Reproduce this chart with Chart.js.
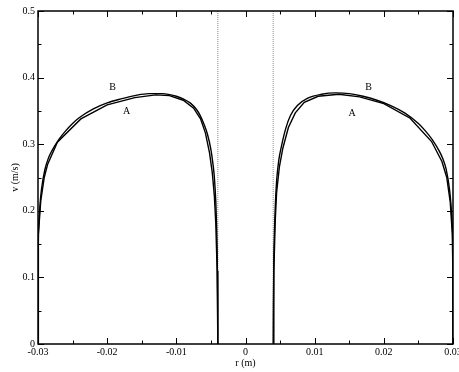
<!DOCTYPE html>
<html>
<head>
<meta charset="utf-8">
<script src="https://cdn.jsdelivr.net/npm/chart.js@4"></script>
<style>
    body { margin: 0; background: #fff; }
    canvas { display: block; }
</style>
</head>
<body>
<canvas id="myChartPerfil" width="459" height="372"></canvas>
<script>
// curva B (superior) - lado esquerdo
const rBEsq = [-0.03, -0.02998, -0.0299, -0.0297, -0.0295, -0.029, -0.0285, -0.028, -0.027, -0.026, -0.025, -0.024, -0.022, -0.020, -0.018, -0.016, -0.014, -0.012, -0.010, -0.009, -0.008, -0.007, -0.0066, -0.006, -0.0055, -0.005, -0.0047, -0.0045, -0.0043, -0.0042, -0.0041, -0.00403, -0.004];
const vBEsq = [0, 0.12, 0.175, 0.21, 0.232, 0.262, 0.279, 0.29, 0.307, 0.32, 0.331, 0.34, 0.353, 0.362, 0.368, 0.373, 0.376, 0.376, 0.372, 0.368, 0.362, 0.351, 0.344, 0.33, 0.315, 0.292, 0.27, 0.25, 0.215, 0.185, 0.14, 0.07, 0];
// curva A (inferior) - lado esquerdo
const rAEsq = [-0.03, -0.02999, -0.0299, -0.0296, -0.0291, -0.0286, -0.0272, -0.0238, -0.020, -0.016, -0.013, -0.011, -0.009, -0.0075, -0.0065, -0.0058, -0.0052, -0.0048, -0.0045, -0.0043, -0.0041, -0.004];
const vAEsq = [0, 0.1, 0.165, 0.215, 0.25, 0.27, 0.303, 0.338, 0.359, 0.37, 0.374, 0.373, 0.366, 0.354, 0.338, 0.317, 0.287, 0.257, 0.222, 0.182, 0.11, 0];
// curva B - lado direito
const rBDir = [0.004, 0.00403, 0.0041, 0.0042, 0.0043, 0.0045, 0.0048, 0.0052, 0.0058, 0.0065, 0.0075, 0.009, 0.011, 0.013, 0.015, 0.017, 0.019, 0.021, 0.023, 0.025, 0.026, 0.027, 0.028, 0.0285, 0.029, 0.0295, 0.0297, 0.0299, 0.02998, 0.03];
const vBDir = [0, 0.06, 0.13, 0.175, 0.205, 0.245, 0.275, 0.297, 0.323, 0.343, 0.358, 0.369, 0.375, 0.377, 0.376, 0.372, 0.366, 0.358, 0.347, 0.331, 0.32, 0.307, 0.29, 0.279, 0.263, 0.232, 0.21, 0.175, 0.12, 0];
// curva A - lado direito
const rADir = [0.004, 0.0041, 0.0043, 0.0045, 0.0049, 0.0054, 0.0062, 0.0072, 0.0085, 0.0105, 0.0135, 0.0165, 0.020, 0.0238, 0.0269, 0.0284, 0.0291, 0.0296, 0.0299, 0.02999, 0.03];
const vADir = [0, 0.11, 0.185, 0.228, 0.266, 0.294, 0.325, 0.347, 0.363, 0.372, 0.375, 0.371, 0.361, 0.339, 0.304, 0.274, 0.25, 0.213, 0.165, 0.1, 0];

// paredes (linhas pontilhadas)
const rParedes = [-0.004, 0.004];

// rotulos das curvas
const rotulosTexto = ['B', 'A', 'B', 'A'];
const rotulosR = [-0.0192, -0.0172, 0.0178, 0.0154];
const rotulosV = [0.386, 0.349, 0.386, 0.347];

// ticks
const ticksXMaior = [-0.03, -0.02, -0.01, 0, 0.01, 0.02, 0.03];
const ticksXMenor = [-0.025, -0.015, -0.005, 0.005, 0.015, 0.025];
const ticksYMaior = [0, 0.1, 0.2, 0.3, 0.4, 0.5];
const ticksYMenor = [0.05, 0.15, 0.25, 0.35, 0.45];

function pontos(xs, ys) {
    return xs.map((x, i) => ({ x: x, y: ys[i] }));
}

Chart.defaults.font.family = "'Liberation Serif', 'Times New Roman', serif";
Chart.defaults.font.size = 10;
Chart.defaults.color = '#000';

const estiloCurva = {
    showLine: true,
    fill: false,
    borderColor: '#000',
    borderWidth: 1.4,
    pointRadius: 0,
    tension: 0
};

const datasetsPerfil = [
    Object.assign({ label: 'B', data: pontos(rBEsq, vBEsq), cubicInterpolationMode: 'monotone' }, estiloCurva),
    Object.assign({ label: 'A', data: pontos(rAEsq, vAEsq) }, estiloCurva),
    Object.assign({ label: 'B', data: pontos(rBDir, vBDir), cubicInterpolationMode: 'monotone' }, estiloCurva),
    Object.assign({ label: 'A', data: pontos(rADir, vADir) }, estiloCurva)
];
rParedes.forEach(r => {
    datasetsPerfil.push({
        label: 'parede',
        data: [{ x: r, y: 0 }, { x: r, y: 0.5 }],
        showLine: true,
        borderColor: '#888',
        borderWidth: 1,
        borderDash: [1, 1],
        pointRadius: 0
    });
});

// moldura, ticks internos e rotulos A/B
const pluginMoldura = {
    id: 'moldura',
    afterDraw(chart) {
        const ctx = chart.ctx;
        const area = chart.chartArea;
        const sx = chart.scales.x;
        const sy = chart.scales.y;
        ctx.save();
        ctx.strokeStyle = '#000';
        ctx.lineWidth = 1.5;
        ctx.strokeRect(area.left, area.top, area.right - area.left, area.bottom - area.top);

        ctx.lineWidth = 1;
        const tickX = (vals, len) => {
            vals.forEach(v => {
                const px = Math.round(sx.getPixelForValue(v)) + 0.5;
                ctx.beginPath();
                ctx.moveTo(px, area.bottom);
                ctx.lineTo(px, area.bottom - len);
                ctx.moveTo(px, area.top);
                ctx.lineTo(px, area.top + len);
                ctx.stroke();
            });
        };
        const tickY = (vals, len) => {
            vals.forEach(v => {
                const py = Math.round(sy.getPixelForValue(v)) + 0.5;
                ctx.beginPath();
                ctx.moveTo(area.left, py);
                ctx.lineTo(area.left + len, py);
                ctx.moveTo(area.right, py);
                ctx.lineTo(area.right - len, py);
                ctx.stroke();
            });
        };
        tickX(ticksXMaior, 6);
        tickX(ticksXMenor, 3.5);
        tickY(ticksYMaior, 6);
        tickY(ticksYMenor, 3.5);

        ctx.fillStyle = '#000';
        ctx.font = "10px 'Liberation Serif', serif";
        ctx.textAlign = 'center';
        ctx.textBaseline = 'middle';
        rotulosTexto.forEach((t, i) => {
            ctx.fillText(t, sx.getPixelForValue(rotulosR[i]), sy.getPixelForValue(rotulosV[i]));
        });
        ctx.restore();
    }
};

const ctxPerfil = document.getElementById('myChartPerfil');
const configPerfil = {
    type: 'scatter',
    data: { datasets: datasetsPerfil },
    options: {
        responsive: false,
        animation: false,
        layout: { padding: { left: 0, right: 6, top: 11, bottom: 0 } },
        plugins: {
            legend: { display: false },
            tooltip: { enabled: false }
        },
        scales: {
            x: {
                type: 'linear',
                min: -0.03,
                max: 0.03,
                grid: { display: false, drawTicks: false },
                border: { display: false },
                ticks: {
                    stepSize: 0.01,
                    autoSkip: false,
                    maxRotation: 0,
                    padding: 2,
                    callback: v => Number(v.toFixed(2)).toString()
                },
                title: { display: true, text: 'r (m)', padding: { top: 0, bottom: 3 } },
                afterFit(scale) {
                    scale.height = 28;
                    scale.paddingLeft = 0;
                    scale.paddingRight = 0;
                }
            },
            y: {
                min: 0,
                max: 0.5,
                grid: { display: false, drawTicks: false },
                border: { display: false },
                ticks: {
                    stepSize: 0.1,
                    padding: 3,
                    callback: v => Number(v.toFixed(1)).toString()
                },
                title: { display: true, text: 'v (m/s)', padding: { top: 9, bottom: 0 } },
                afterFit(scale) {
                    scale.width = 38;
                    scale.paddingTop = 0;
                    scale.paddingBottom = 0;
                }
            }
        }
    },
    plugins: [pluginMoldura]
};

new Chart(ctxPerfil, configPerfil);
</script>
</body>
</html>
